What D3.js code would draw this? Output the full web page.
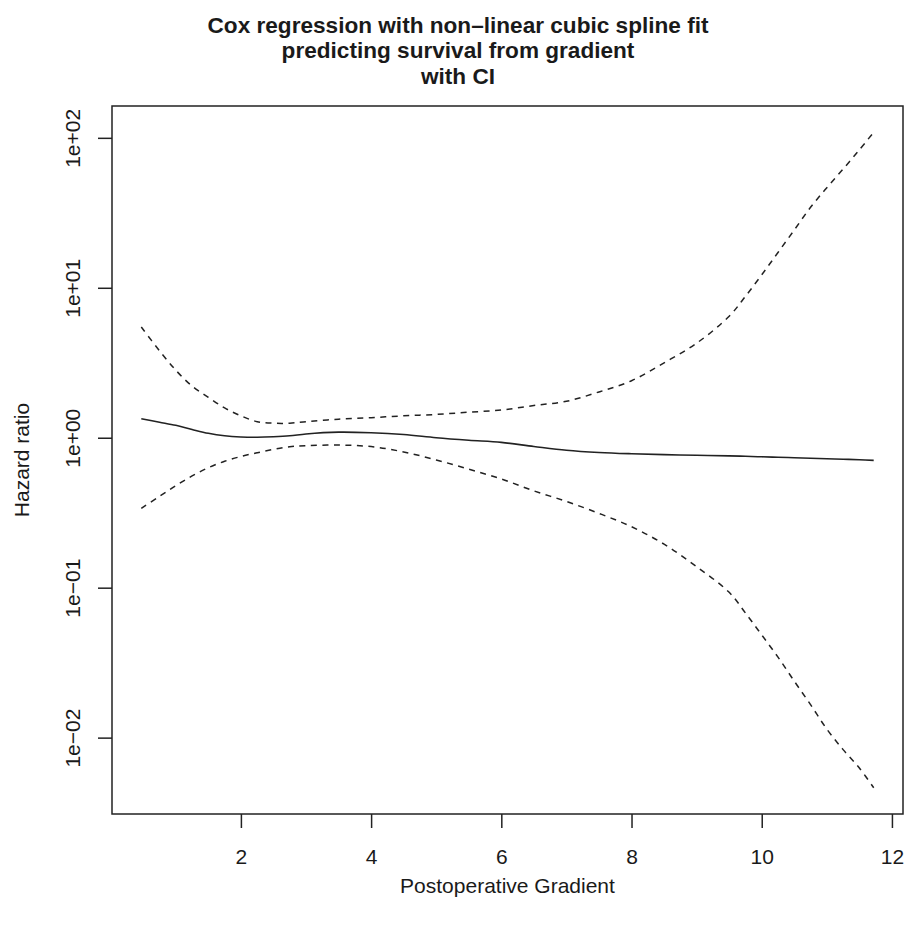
<!DOCTYPE html>
<html>
<head>
<meta charset="utf-8">
<script src="https://cdn.jsdelivr.net/npm/d3@7"></script>
<style>
  body { margin: 0; background: #fff; }
  text { font-family: "Liberation Sans", Arial, Helvetica, sans-serif; fill: #1a1a1a; }
</style>
</head>
<body>
<div class="chart"></div>
<script>
// values
const gradient = [0.47, 0.75, 1.0, 1.25, 1.5, 1.75, 2.0, 2.25, 2.5, 2.75, 3.0, 3.5, 4.0, 4.5, 5.0, 5.5, 6.0, 6.5, 7.0, 7.5, 8.0, 8.5, 9.0, 9.5, 9.75, 10.0, 10.25, 10.5, 10.75, 11.0, 11.25, 11.5, 11.72];
const hazard = [1.34, 1.27, 1.21, 1.135, 1.07, 1.03, 1.012, 1.008, 1.015, 1.03, 1.06, 1.09, 1.08, 1.05, 1.00, 0.962, 0.931, 0.875, 0.826, 0.798, 0.782, 0.771, 0.764, 0.757, 0.752, 0.746, 0.741, 0.736, 0.730, 0.724, 0.719, 0.713, 0.706];
const upperCI = [5.47, 3.80, 2.82, 2.21, 1.86, 1.58, 1.40, 1.28, 1.25, 1.25, 1.28, 1.33, 1.36, 1.40, 1.43, 1.48, 1.53, 1.64, 1.75, 2.02, 2.40, 3.16, 4.27, 6.46, 8.77, 12.2, 17.2, 24.3, 34.4, 46.5, 61.9, 83.2, 109];
const lowerCI = [0.338, 0.407, 0.479, 0.556, 0.631, 0.697, 0.750, 0.794, 0.836, 0.871, 0.885, 0.893, 0.873, 0.804, 0.711, 0.617, 0.531, 0.442, 0.376, 0.313, 0.255, 0.195, 0.138, 0.0931, 0.0678, 0.0484, 0.0344, 0.0238, 0.0166, 0.0114, 0.00832, 0.00627, 0.00463];

const xTicks = [2, 4, 6, 8, 10, 12];
const yTicks = [1e-2, 1e-1, 1, 10, 100];
const yTickLabels = ['1e\u221202', '1e\u221201', '1e+00', '1e+01', '1e+02'];
const titleLines = ['Cox regression with non\u2013linear cubic spline fit', 'predicting survival from gradient', 'with CI'];

const W = 908, H = 928;
const margin = { top: 106, right: 5, bottom: 114, left: 112 };

const svg = d3.select('.chart')
  .append('svg')
  .attr('width', W)
  .attr('height', H);

// R style 4% padding of the axis range
const xr = d3.extent(gradient);
const xpad = (xr[1] - xr[0]) * 0.04;
const xScale = d3.scaleLinear()
  .domain([xr[0] - xpad, xr[1] + xpad])
  .range([margin.left, W - margin.right]);

const lmin = Math.log10(d3.min(lowerCI)), lmax = Math.log10(d3.max(upperCI));
const lpad = (lmax - lmin) * 0.04;
const yScale = d3.scaleLog()
  .domain([Math.pow(10, lmin - lpad), Math.pow(10, lmax + lpad)])
  .range([H - margin.bottom, margin.top]);

// box
svg.append('rect')
  .attr('x', margin.left)
  .attr('y', margin.top)
  .attr('width', W - margin.left - margin.right)
  .attr('height', H - margin.top - margin.bottom)
  .attr('fill', 'none')
  .attr('stroke', '#222')
  .attr('stroke-width', 1.5);

//X axis------------------------------------
const xAxis = svg.append('g')
  .attr('transform', `translate(0,${H - margin.bottom})`)
  .call(d3.axisBottom(xScale)
    .tickValues(xTicks)
    .tickFormat(d3.format('d'))
    .tickSize(14)
    .tickPadding(21));
xAxis.select('.domain').remove();
xAxis.selectAll('line').attr('stroke', '#222').attr('stroke-width', 1.5);
xAxis.selectAll('text')
  .attr('font-size', 21)
  .attr('fill', '#1a1a1a')
  .attr('font-family', '"Liberation Sans", Arial, sans-serif');

//Y axis---------------------------
const yAxis = svg.append('g')
  .attr('transform', `translate(${margin.left},0)`)
  .call(d3.axisLeft(yScale)
    .tickValues(yTicks)
    .tickFormat((d, i) => yTickLabels[i])
    .tickSize(14));
yAxis.select('.domain').remove();
yAxis.selectAll('line').attr('stroke', '#222').attr('stroke-width', 1.5);
yAxis.selectAll('text')
  .attr('font-size', 21)
  .attr('fill', '#1a1a1a')
  .attr('font-family', '"Liberation Sans", Arial, sans-serif')
  .attr('text-anchor', 'middle')
  .attr('x', 0)
  .attr('dy', 0)
  .attr('transform', 'translate(-32,0) rotate(-90)');

// curves
const line = (vals) => d3.line()
  .x((d, i) => xScale(gradient[i]))
  .y(d => yScale(d))
  .curve(d3.curveCatmullRom.alpha(0.5))(vals);

svg.append('path')
  .attr('d', line(upperCI))
  .attr('fill', 'none')
  .attr('stroke', '#222')
  .attr('stroke-width', 1.5)
  .attr('stroke-dasharray', '6,5.5');

svg.append('path')
  .attr('d', line(lowerCI))
  .attr('fill', 'none')
  .attr('stroke', '#222')
  .attr('stroke-width', 1.5)
  .attr('stroke-dasharray', '6,5.5');

svg.append('path')
  .attr('d', line(hazard))
  .attr('fill', 'none')
  .attr('stroke', '#222')
  .attr('stroke-width', 1.6);

// title (centred a bit left of the plot box, as in the reference)
svg.append('g').selectAll('text')
  .data(titleLines)
  .enter()
  .append('text')
  .attr('x', 458)
  .attr('y', (d, i) => 33 + i * 25.4)
  .attr('text-anchor', 'middle')
  .attr('font-size', 22.6)
  .attr('font-weight', 'bold')
  .text(d => d);

// X axis label
svg.append('text')
  .attr('x', (margin.left + W - margin.right) / 2)
  .attr('y', 893)
  .attr('text-anchor', 'middle')
  .attr('font-size', 21)
  .text('Postoperative Gradient');

// Y axis label
svg.append('text')
  .attr('transform', `translate(29,${(margin.top + H - margin.bottom) / 2}) rotate(-90)`)
  .attr('text-anchor', 'middle')
  .attr('font-size', 21)
  .text('Hazard ratio');
</script>
</body>
</html>
